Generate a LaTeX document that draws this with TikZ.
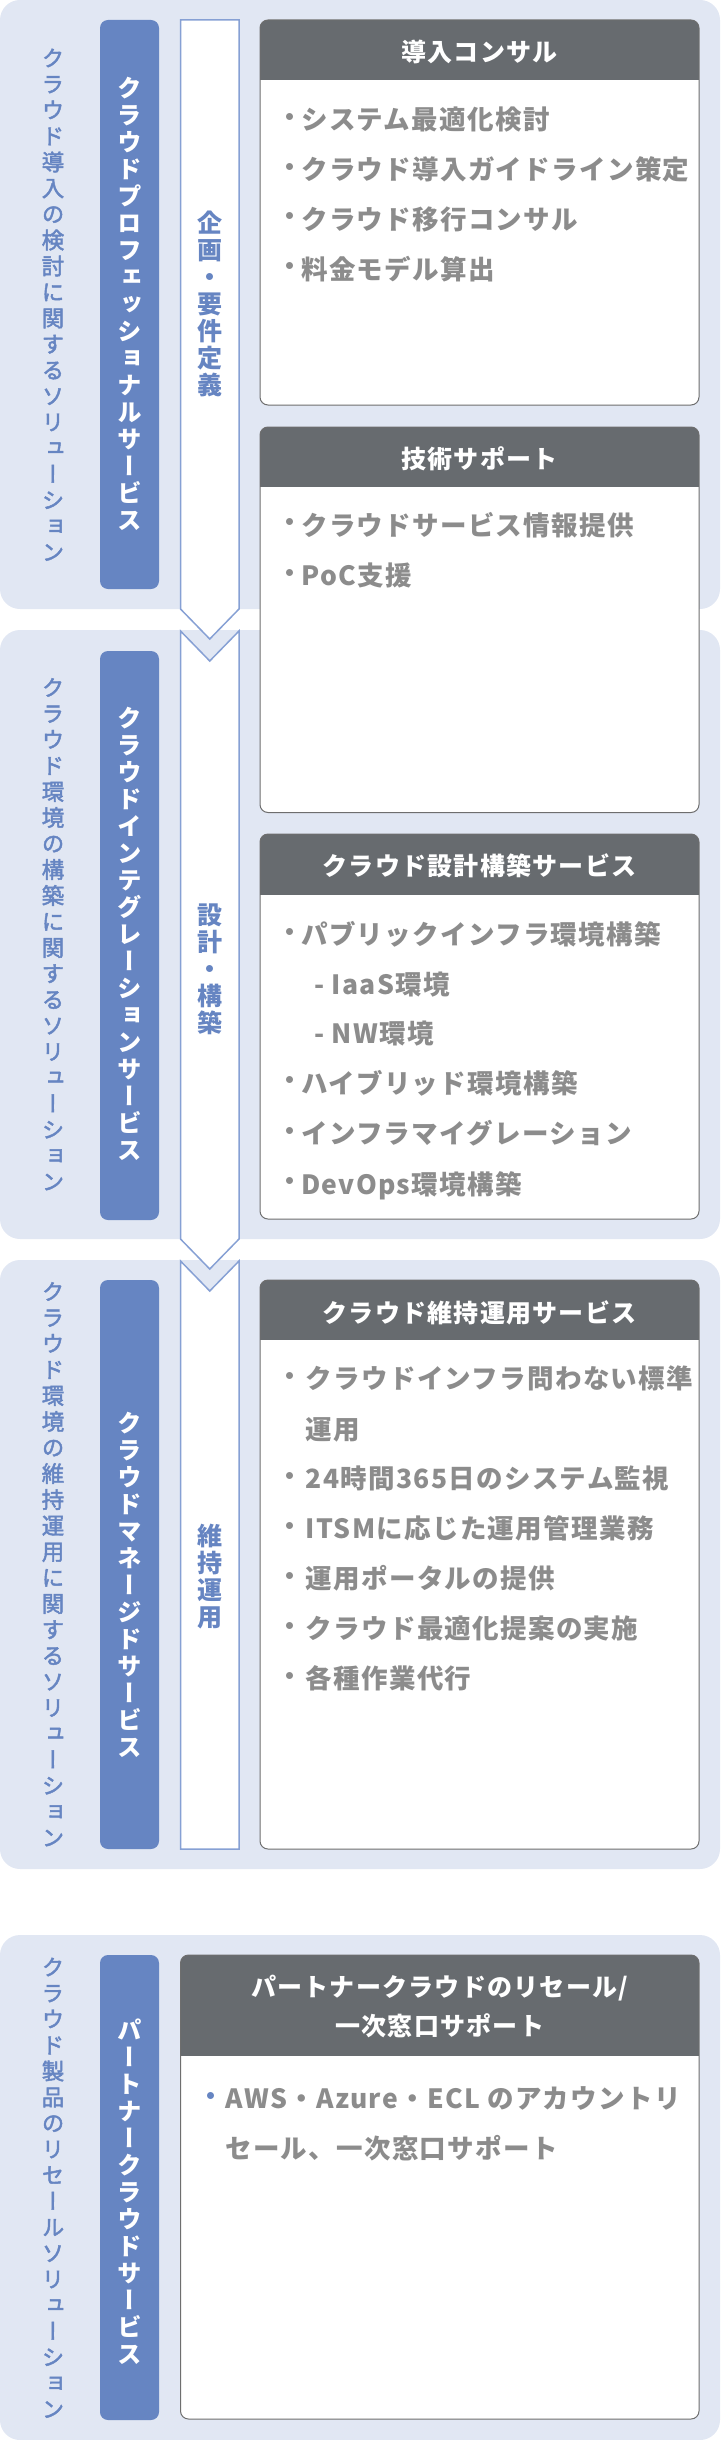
\documentclass[tikz,border=0pt]{standalone}
\usepackage{fontspec}
\setmainfont{Noto Sans CJK JP}
\newfontfamily\jpbody[LetterSpace=5]{Noto Sans CJK JP}
\newfontfamily\jphead[LetterSpace=5]{Noto Sans CJK JP}
\newfontfamily\jpvert[RawFeature={+vert}]{Noto Sans CJK JP}
\newfontfamily\jpvertm[RawFeature={+vert},FakeBold=2]{Noto Sans CJK JP}
\definecolor{panelbg}{HTML}{E1E7F3}
\definecolor{svcblue}{HTML}{6685C2}
\definecolor{hdrgray}{HTML}{676B6F}
\definecolor{txtgray}{HTML}{8C8C8C}
\definecolor{arrowline}{HTML}{86A0D4}
\definecolor{boxline}{HTML}{6E6E6E}
\ExplSyntaxOn
\NewDocumentCommand\vstack{mm}
  {
    \vbox
      {
        \baselineskip=#1 \lineskiplimit=-\maxdimen \lineskip=0pt
        \tl_map_inline:nn {#2}
          { \hbox_to_wd:nn {1em} { \hss \rule[-0.12em]{0pt}{1em} ##1 \hss } }
      }
  }
\ExplSyntaxOff
\tikzset{
  panel/.style={fill=panelbg, rounded corners=20pt},
  svc/.style={fill=svcblue, rounded corners=8pt},
  card/.style={fill=white, rounded corners=8pt, inner sep=0pt, outer sep=0pt, anchor=north west},
  cardline/.style={draw=boxline, line width=1pt, rounded corners=8pt},
  hdrfill/.style={fill=hdrgray},
  phase/.style={fill=white, draw=arrowline, line width=1.5pt, line join=miter},
  vlab/.style={inner sep=0pt, text=svcblue, font=\jpvertm\fontsize{22.5}{26}\selectfont},
  vsvc/.style={inner sep=0pt, text=white, font=\jpvert\bfseries\fontsize{24.5}{27}\selectfont},
  vphase/.style={inner sep=0pt, text=svcblue, font=\jpvert\bfseries\fontsize{25}{27}\selectfont},
  htitle/.style={inner sep=0pt, anchor=base, text=white, font=\jphead\bfseries\fontsize{25}{30}\selectfont},
  item/.style={inner sep=0pt, anchor=base west, text=txtgray, font=\jpbody\bfseries\fontsize{26.5}{30}\selectfont},
  dot/.style={inner sep=0pt, text=txtgray, font=\jpbody\bfseries\fontsize{25}{30}\selectfont},
}
\begin{document}
\begin{tikzpicture}[x=1pt,y=-1pt]
\useasboundingbox (0,0) rectangle (720,2440);
% panels
\fill[panel] (0,0) rectangle (720,609);
\fill[panel] (0,630) rectangle (720,1239);
\fill[panel] (0,1260) rectangle (720,1869);
\fill[panel] (0,1935) rectangle (720,2440);
% service boxes
\fill[svc] (100,20) rectangle (159,589);
\fill[svc] (100,651) rectangle (159,1220);
\fill[svc] (100,1280) rectangle (159,1849);
\fill[svc] (100,1955) rectangle (159,2420);
% phase arrows
\draw[phase] (180.5,20) -- (239,20) -- (239,609) -- (209.75,639) -- (180.5,609) -- cycle;
\draw[phase] (180.5,631) -- (209.75,661) -- (239,631) -- (239,1239) -- (209.75,1269) -- (180.5,1239) -- cycle;
\draw[phase] (180.5,1261) -- (209.75,1291) -- (239,1261) -- (239,1849) -- (180.5,1849) -- cycle;
% cards
\node[card, minimum width=439pt, minimum height=385pt] (c1) at (260,20) {};
\node[card, minimum width=439pt, minimum height=385.5pt] (c2) at (260,427) {};
\node[card, minimum width=439pt, minimum height=385pt] (c3) at (260,834) {};
\node[card, minimum width=439pt, minimum height=569pt] (c4) at (260,1280) {};
\node[card, minimum width=518.5pt, minimum height=464pt] (c5) at (180.5,1955) {};
\foreach \c/\h in {c1/60,c2/60,c3/60.5,c4/60,c5/100.5}{
  \begin{scope}
    \clip[rounded corners=8pt] (\c.north west) rectangle (\c.south east);
    \fill[hdrfill] (\c.north west) rectangle ([yshift=-\h pt]\c.north east);
  \end{scope}
  \draw[cardline] (\c.north west) rectangle (\c.south east);
}
% left labels
\node[vlab] (l1) at (53,305) {\vstack{26pt}{クラウド導入の検討に関するソリューション}};
\node[vlab] (l2) at (53,934.5) {\vstack{26pt}{クラウド環境の構築に関するソリューション}};
\node[vlab] (l3) at (53,1564.5) {\vstack{26pt}{クラウド環境の維持運用に関するソリューション}};
\node[vlab] (l4) at (53,2188) {\vstack{26pt}{クラウド製品のリセールソリューション}};
% service labels
\node[vsvc] (s1) at (130,304) {\vstack{27pt}{クラウドプロフェッショナルサービス}};
\node[vsvc] (s2) at (130,934.5) {\vstack{27pt}{クラウドインテグレーションサービス}};
\node[vsvc] (s3) at (130,1585) {\vstack{27pt}{クラウドマネージドサービス}};
\node[vsvc] (s4) at (130,2192.5) {\vstack{27pt}{パートナークラウドサービス}};
% phase labels
\node[vphase] (p1) at (210,304) {\vstack{27pt}{企画・要件定義}};
\node[vphase] (p2) at (210,969) {\vstack{27pt}{設計・構築}};
\node[vphase] (p3) at (210,1576) {\vstack{27pt}{維持運用}};
% titles
\node[htitle] (t1) at (479.5,61.5) {導入コンサル};
\node[htitle] (t2) at (479.5,468.5) {技術サポート};
\node[htitle] (t3) at (479.5,875.5) {クラウド設計構築サービス};
\node[htitle] (t4) at (479.5,1322) {クラウド維持運用サービス};
\node[htitle] (t5a) at (439.75,1996.5) {パートナークラウドのリセール/};
\node[htitle] (t5b) at (439.75,2035.5) {一次窓口サポート};
% card 1
\node[dot] (d1a) at (290,120) {・};
\node[item] (i1a) at (301,130) {システム最適化検討};
\node[dot] (d1b) at (290,169.7) {・};
\node[item] (i1b) at (301,179.7) {クラウド導入ガイドライン策定};
\node[dot] (d1c) at (290,219.4) {・};
\node[item] (i1c) at (301,229.4) {クラウド移行コンサル};
\node[dot] (d1d) at (290,269.1) {・};
\node[item] (i1d) at (301,279.1) {料金モデル算出};
% card 2
\node[dot] (d2a) at (290,525.3) {・};
\node[item] (i2a) at (301,535.3) {クラウドサービス情報提供};
\node[dot] (d2b) at (290,575.5) {・};
\node[item] (i2b) at (301,585.5) {PoC支援};
% card 3
\node[dot] (d3a) at (290,934.6) {・};
\node[item] (i3a) at (301,944.6) {パブリックインフラ環境構築};
\node[item] (i3b) at (314,994) {- IaaS環境};
\node[item] (i3c) at (314,1043.5) {- NW環境};
\node[dot] (d3d) at (290,1083) {・};
\node[item] (i3d) at (301,1093) {ハイブリッド環境構築};
\node[dot] (d3e) at (290,1133.7) {・};
\node[item] (i3e) at (301,1143.7) {インフラマイグレーション};
\node[dot] (d3f) at (290,1184) {・};
\node[item] (i3f) at (301,1194) {DevOps環境構築};
% card 4
\node[dot] (d4a) at (290,1378.8) {・};
\node[item] (i4a) at (305.5,1388.8) {クラウドインフラ問わない標準};
\node[item] (i4b) at (305.5,1439.8) {運用};
\node[dot] (d4c) at (290,1478.8) {・};
\node[item] (i4c) at (305.5,1488.8) {24時間365日のシステム監視};
\node[dot] (d4d) at (290,1528.6) {・};
\node[item] (i4d) at (305.5,1538.6) {ITSMに応じた運用管理業務};
\node[dot] (d4e) at (290,1578.8) {・};
\node[item] (i4e) at (305.5,1588.8) {運用ポータルの提供};
\node[dot] (d4f) at (290,1628.6) {・};
\node[item] (i4f) at (305.5,1638.6) {クラウド最適化提案の実施};
\node[dot] (d4g) at (290,1678.8) {・};
\node[item] (i4g) at (305.5,1688.8) {各種作業代行};
% card 5
\node[dot, text=svcblue] (d5a) at (211,2098.6) {・};
\node[item] (i5a) at (225,2108.6) {AWS・Azure・ECL のアカウントリ};
\node[item] (i5b) at (225,2158) {セール、一次窓口サポート};
\end{tikzpicture}
\end{document}
